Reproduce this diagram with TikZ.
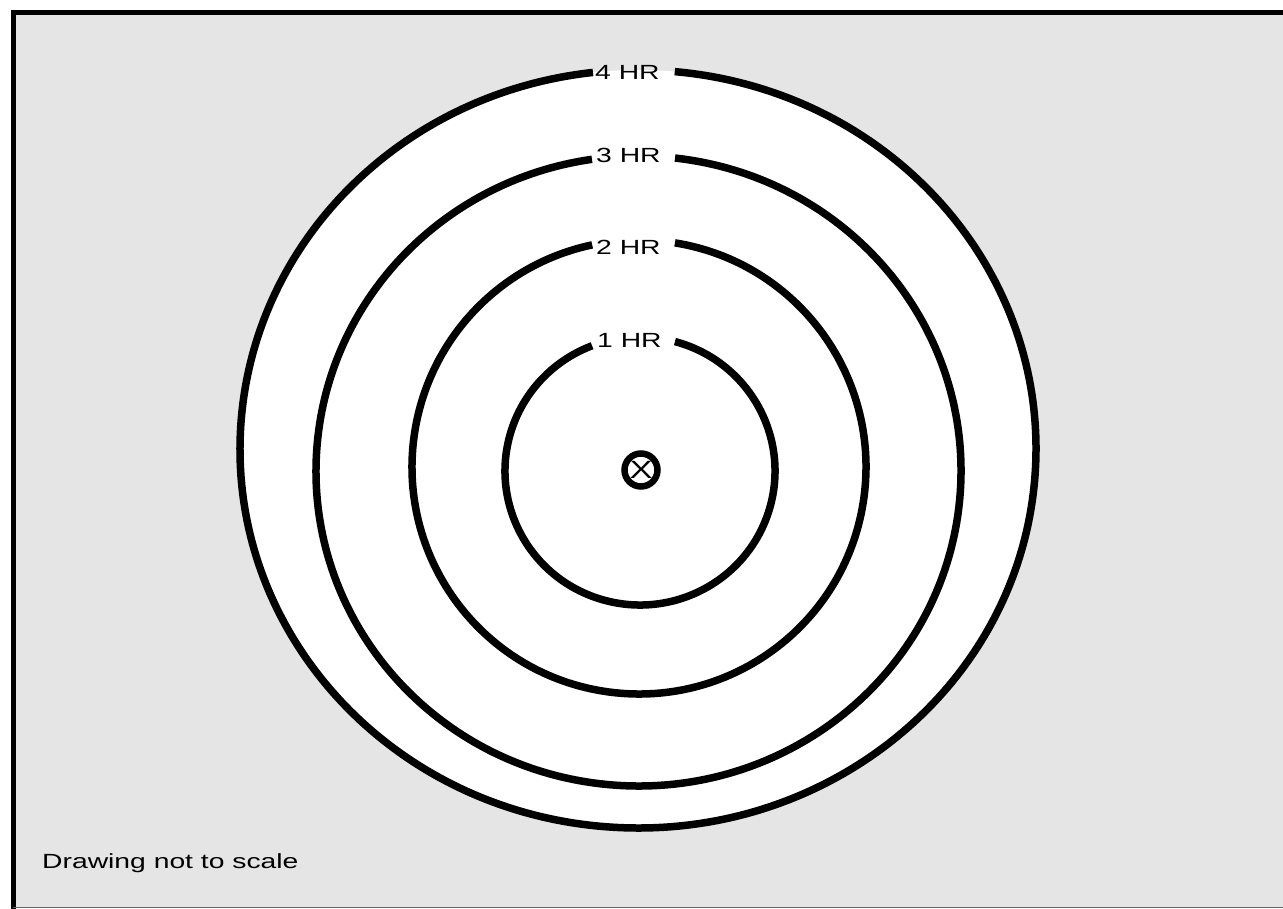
\documentclass[tikz,border=0pt]{standalone}
\usepackage{fontspec}
\newfontfamily\hrfont[FakeStretch=1.38]{Liberation Sans}
\usetikzlibrary{positioning}
\tikzset{
  ring/.style={line width=7.5pt},
  hrlbl/.style={font=\hrfont\fontsize{20.5}{21}\selectfont,anchor=west,inner sep=0pt},
  xmark/.style={draw,circle,line width=6.5pt,minimum size=33pt,inner sep=0pt,font=\hrfont\fontsize{25}{25}\selectfont},
}
\begin{document}
\begin{tikzpicture}[x=1pt,y=-1pt]
 \useasboundingbox (0,0) rectangle (1283,909);
 % stippled sheet and the white disc inside the 4 hr ring
 \fill[black!10] (13,13) rectangle (1283,907);
 \fill[white] (638,449) ellipse [x radius=398,y radius=379];
 \draw[line width=5pt] (13,909)--(13,13)--(1283,13);
 \draw[line width=1.5pt,black!60] (13,907.5)--(1283,907.5);
 % rings, each open at the top for its label
 \foreach \cx/\cy/\rx/\ry/\a/\b in {640/471/135/134/285/609.2, 639/467/227/227/279.1/618.1, 638.5/471/322.5/315/276.5/621.7, 638/449/398/379/275.3/623.5}
  \draw[ring] (\cx,\cy) ++({\rx*cos(\a)},{\ry*sin(\a)}) arc[start angle=\a,end angle=\b,x radius=\rx,y radius=\ry];
 \node[hrlbl] (hr1) at (597,340) {1 HR};
 \node[hrlbl] (hr2) at (596,247) {2 HR};
 \node[hrlbl] (hr3) at (596,155) {3 HR};
 \node[hrlbl] (hr4) at (595,72) {4 HR};
 \node[xmark] (site) at (641,470) {X};
 \node[hrlbl,anchor=base west] (note) at (42,868) {Drawing not to scale};
\end{tikzpicture}
\end{document}
